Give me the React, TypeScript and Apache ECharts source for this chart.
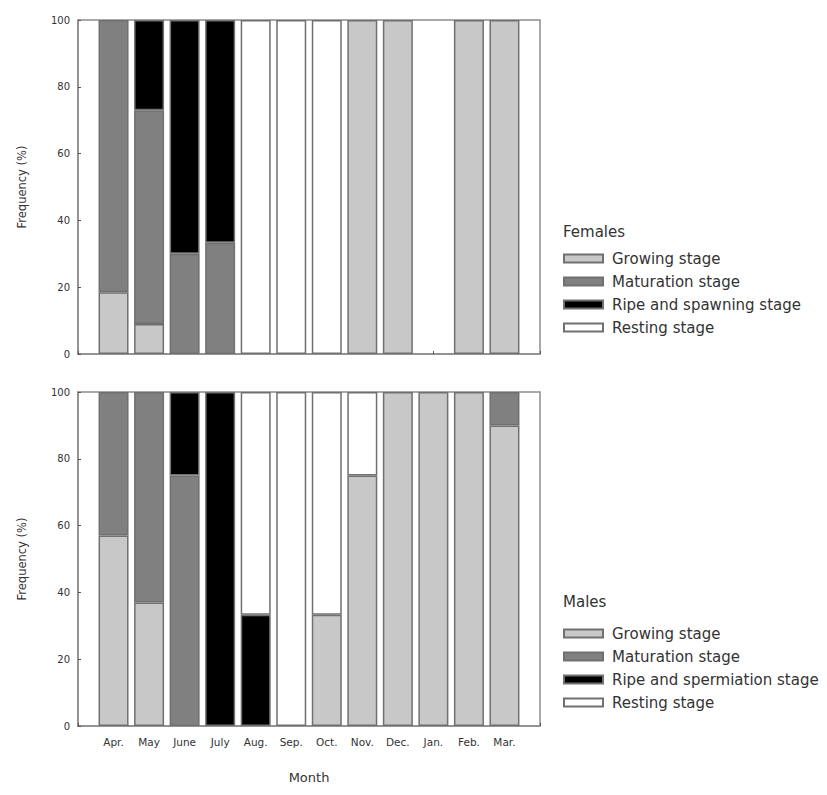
import React, { useEffect, useRef } from "react";
import * as echarts from "echarts";

const months = ["Apr.", "May", "June", "July", "Aug.", "Sep.", "Oct.", "Nov.", "Dec.", "Jan.", "Feb.", "Mar."];
const yTicks = [0, 20, 40, 60, 80, 100];

// Females (% per stage)
const fGrowing = [18.5, 9, 0, 0, 0, 0, 0, 100, 100, 0, 100, 100];
const fMaturation = [81.5, 64, 30, 33.3, 0, 0, 0, 0, 0, 0, 0, 0];
const fRipe = [0, 27, 70, 66.7, 0, 0, 0, 0, 0, 0, 0, 0];
const fResting = [0, 0, 0, 0, 100, 100, 100, 0, 0, 0, 0, 0];

// Males (% per stage)
const mGrowing = [57, 37, 0, 0, 0, 0, 33.3, 75, 100, 100, 100, 90];
const mMaturation = [43, 63, 75, 0, 0, 0, 0, 0, 0, 0, 0, 10];
const mRipe = [0, 0, 25, 100, 33.3, 0, 0, 0, 0, 0, 0, 0];
const mResting = [0, 0, 0, 0, 66.7, 100, 66.7, 25, 0, 0, 0, 0];

const stageColors = ["#c8c8c8", "#808080", "#000000", "#ffffff"];
const femaleNames = ["Growing stage", "Maturation stage", "Ripe and spawning stage", "Resting stage"];
const maleNames = ["Growing stage", "Maturation stage", "Ripe and spermiation stage", "Resting stage"];

const FONT = "DejaVu Sans, Verdana, sans-serif";

export default function App() {
  const ref = useRef<HTMLDivElement>(null);
  useEffect(() => {
    if (!ref.current) return;
    const chart = echarts.init(ref.current, undefined, { renderer: "svg" });
    const cats = ["", ...months, ""];
    const pad = (arr: number[]) => [null, ...arr.map((v) => (v === 0 ? null : v)), null];

    const makeSeries = (names: string[], data: number[][], gi: number, stack: string) =>
      names.map((n, i) => ({
        name: n,
        type: "bar",
        stack,
        xAxisIndex: gi,
        yAxisIndex: gi,
        barWidth: 30,
        data: pad(data[i]),
        itemStyle: { color: stageColors[i], borderColor: "#707070", borderWidth: 1.5 },
      }));

    const xAxisBase = (gi: number, showLabels: boolean) => ({
      type: "category",
      gridIndex: gi,
      data: cats,
      boundaryGap: false,
      axisLine: { lineStyle: { color: "#8c8c8c", width: 1.5 } },
      axisTick: { show: true, inside: true, length: 3, lineStyle: { color: "#555" } },
      axisLabel: { show: showLabels, interval: 0, fontSize: 10.5, color: "#333", fontFamily: FONT, margin: 10 },
      splitLine: { show: false },
      name: showLabels ? "Month" : "",
      nameLocation: "middle",
      nameGap: 45,
      nameTextStyle: { fontSize: 13, color: "#333", fontFamily: FONT },
    });
    const yAxisBase = (gi: number) => ({
      type: "value",
      gridIndex: gi,
      min: 0,
      max: 100,
      interval: 20,
      axisLine: { show: true, lineStyle: { color: "#8c8c8c", width: 1.5 } },
      axisTick: { show: true, inside: true, length: 3, lineStyle: { color: "#555" } },
      axisLabel: { fontSize: 10, color: "#333", fontFamily: FONT, margin: 8, formatter: (v: number) => (yTicks.includes(v) ? String(v) : "") },
      splitLine: { show: false },
      name: "Frequency (%)",
      nameLocation: "middle",
      nameGap: 50,
      nameTextStyle: { fontSize: 11.5, color: "#333", fontFamily: FONT },
    });

    const legendText = { fontSize: 15, color: "#333", fontFamily: FONT, padding: [0, 0, 0, 4] };

    chart.setOption({
      animation: false,
      backgroundColor: "#ffffff",
      title: [
        { text: "Females", left: 555, top: 216, textStyle: { fontSize: 15, fontWeight: "normal", color: "#333", fontFamily: FONT }, padding: 0 },
        { text: "Males", left: 555, top: 586, textStyle: { fontSize: 15, fontWeight: "normal", color: "#333", fontFamily: FONT }, padding: 0 },
      ],
      legend: [
        {
          data: femaleNames, orient: "vertical", left: 555, top: 243, padding: 0,
          itemWidth: 39, itemHeight: 8, itemGap: 8, icon: "rect", selectedMode: false,
          textStyle: legendText,
        },
        {
          data: maleNames, orient: "vertical", left: 555, top: 618, padding: 0,
          itemWidth: 39, itemHeight: 8, itemGap: 8, icon: "rect", selectedMode: false,
          textStyle: legendText,
        },
      ],
      grid: [
        { left: 66, top: 12, width: 466, height: 334, show: true, borderColor: "#8c8c8c", borderWidth: 1.5, backgroundColor: "transparent" },
        { left: 66, top: 384, width: 466, height: 334, show: true, borderColor: "#8c8c8c", borderWidth: 1.5, backgroundColor: "transparent" },
      ],
      xAxis: [xAxisBase(0, false), xAxisBase(1, true)],
      yAxis: [yAxisBase(0), yAxisBase(1)],
      series: [
        ...makeSeries(femaleNames, [fGrowing, fMaturation, fRipe, fResting], 0, "f"),
        ...makeSeries(maleNames, [mGrowing, mMaturation, mRipe, mResting], 1, "m"),
      ],
    });
    return () => chart.dispose();
  }, []);
  return <div ref={ref} style={{ width: 811, height: 779 }} />;
}
